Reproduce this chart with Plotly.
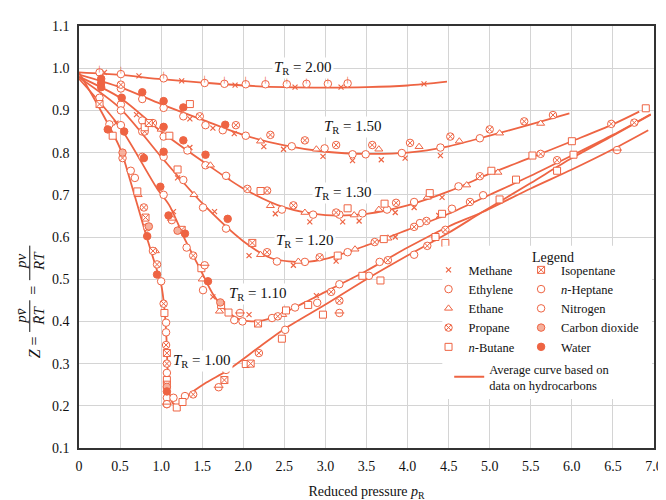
import plotly.graph_objects as go

COLOR = "#EE6443"
FONT = "Liberation Serif, Times New Roman, serif"

# ---------------- average curves (hydrocarbons) ----------------
tr_labels = ["2.00", "1.50", "1.30", "1.20", "1.10", "1.00"]

tr200_x = [0, 0.5, 1.0, 1.5, 2.0, 2.5, 3.0, 3.5, 4.0, 4.48]
tr200_y = [0.99, 0.984, 0.974, 0.966, 0.959, 0.955, 0.954, 0.955, 0.959, 0.968]

tr150_x = [0, 0.5, 1.0, 1.5, 2.0, 2.5, 3.0, 3.5, 4.0, 4.5, 5.0, 5.5, 5.97]
tr150_y = [0.985, 0.955, 0.915, 0.878, 0.842, 0.817, 0.802, 0.797, 0.800, 0.815, 0.840, 0.867, 0.893]

tr130_x = [0, 0.5, 1.0, 1.5, 2.0, 2.5, 3.0, 3.5, 4.0, 4.5, 5.0, 5.5, 6.0, 6.5, 6.82]
tr130_y = [0.98, 0.93, 0.85, 0.78, 0.715, 0.67, 0.652, 0.655, 0.675, 0.708, 0.75, 0.788, 0.827, 0.867, 0.897]

tr120_x = [0, 0.5, 1.0, 1.5, 2.0, 2.35, 2.75, 3.0, 3.5, 4.0, 4.5, 5.0, 5.5, 6.0, 6.5, 6.96]
tr120_y = [0.978, 0.905, 0.79, 0.68, 0.59, 0.549, 0.541, 0.548, 0.58, 0.617, 0.655, 0.70, 0.745, 0.793, 0.842, 0.891]

tr110_x = [0, 0.5, 0.95, 1.1, 1.3, 1.47, 1.63, 1.8, 1.95, 2.1, 2.35, 2.75, 3.0, 3.5, 4.0, 4.5, 4.9, 5.5, 6.0, 6.5, 6.93]
tr110_y = [0.975, 0.86, 0.715, 0.675, 0.59, 0.526, 0.465, 0.424, 0.405, 0.40, 0.408, 0.445, 0.47, 0.52, 0.575, 0.625, 0.658, 0.715, 0.76, 0.808, 0.853]

tr100_x = [0, 0.25, 0.5, 0.63, 0.81, 0.93, 1.0, 1.04, 1.065, 1.08, 1.1, 1.14, 1.2, 1.31, 1.55, 1.8, 2.2, 2.5, 3.0, 3.5, 4.0, 4.5, 4.9, 5.5, 6.0, 6.5, 6.96]
tr100_y = [0.99, 0.905, 0.81, 0.73, 0.609, 0.533, 0.488, 0.43, 0.36, 0.28, 0.232, 0.207, 0.199, 0.222, 0.255, 0.283, 0.34, 0.382, 0.44, 0.50, 0.556, 0.61, 0.658, 0.728, 0.787, 0.84, 0.89]

curves_x = [tr200_x, tr150_x, tr130_x, tr120_x, tr110_x, tr100_x]
curves_y = [tr200_y, tr150_y, tr130_y, tr120_y, tr110_y, tr100_y]

# label positions (data coords) for the T_R labels
label_x = [2.73, 3.33, 3.21, 2.75, 2.18, 1.50]
label_y = [1.000, 0.860, 0.704, 0.590, 0.464, 0.305]

# ---------------- experimental data points ----------------
methane_x = [0.31, 0.73, 1.25, 1.9, 2.63, 3.19, 4.2,
             1.35, 1.63, 1.89, 2.25, 2.49, 2.97, 3.33, 3.68, 3.97, 4.4,
             0.7, 1.35, 1.81, 2.39, 2.81, 3.21, 3.41, 3.85, 4.08, 4.42,
             1.2, 1.65, 2.07, 2.61, 3.13, 3.85, 4.38,
             0.45, 1.15, 1.63, 2.07, 2.89]
methane_y = [0.99, 0.982, 0.97, 0.96, 0.955, 0.955, 0.963,
             0.88, 0.858, 0.845, 0.814, 0.808, 0.791, 0.781, 0.783, 0.787, 0.793,
             0.89, 0.812, 0.742, 0.655, 0.636, 0.636, 0.638, 0.658, 0.67, 0.694,
             0.74, 0.66, 0.556, 0.533, 0.543, 0.60, 0.651,
             0.87, 0.66, 0.458, 0.416, 0.461]

ethylene_x = [0.51, 0.77, 1.03, 1.27, 1.54, 1.75, 2.03, 2.59, 2.99, 3.33, 3.49, 3.93, 4.4, 4.88,
              0.51, 0.77, 1.03, 1.32, 1.54, 1.79, 2.47, 2.85, 3.17, 3.45, 3.75, 4.08, 4.62,
              0.51, 0.77, 1.03, 1.27, 1.51, 1.79, 2.41, 2.75, 3.27, 4.15, 4.54, 4.92,
              0.25, 0.51, 0.77, 1.03, 1.31, 1.51, 1.89, 1.99, 2.35, 2.63, 2.9, 3.17, 3.66, 4.34,
              0.37, 0.63, 0.68, 0.83, 1.0, 1.06, 1.06, 1.07, 1.07, 1.07, 1.15, 1.29, 1.79, 2.51, 3.53, 4.08]
ethylene_y = [0.952, 0.927, 0.906, 0.886, 0.865, 0.853, 0.84, 0.815, 0.81, 0.796, 0.796, 0.799, 0.812, 0.834,
              0.914, 0.876, 0.838, 0.805, 0.77, 0.745, 0.665, 0.653, 0.653, 0.656, 0.665, 0.683, 0.72,
              0.90, 0.85, 0.79, 0.735, 0.67, 0.62, 0.542, 0.541, 0.564, 0.633, 0.667, 0.699,
              0.93, 0.865, 0.79, 0.70, 0.575, 0.474, 0.403, 0.40, 0.408, 0.433, 0.444, 0.488, 0.541, 0.60,
              0.867, 0.757, 0.74, 0.623, 0.495, 0.397, 0.374, 0.278, 0.219, 0.204, 0.219, 0.223, 0.285, 0.38, 0.508, 0.558]

ethane_x = [2.21, 2.89, 3.65, 4.14, 4.63, 5.12, 5.62,
            1.0, 1.6, 2.33, 2.75, 3.35, 3.65, 4.24, 4.72, 5.1,
            1.4, 2.21, 2.67, 3.36, 3.76,
            1.5, 1.71, 2.48,
            0.72, 0.93]
ethane_y = [0.827, 0.808, 0.808, 0.814, 0.827, 0.846, 0.869,
            0.855, 0.77, 0.674, 0.658, 0.652, 0.665, 0.694, 0.723, 0.753,
            0.70, 0.558, 0.542, 0.571, 0.597,
            0.50, 0.424, 0.416,
            0.70, 0.567]

propane_x = [0.51, 1.47, 1.91, 2.33, 2.75, 3.13, 3.57, 4.03, 4.52, 5.0, 5.42, 5.77,
             0.9, 2.05, 2.29, 2.61, 3.13, 3.86, 4.88, 5.62, 6.48,
             0.8, 2.29, 2.93, 3.6, 4.08, 4.23, 4.76, 5.82, 6.76,
             1.39, 2.42, 3.07, 3.76, 4.24, 4.46,
             0.53, 0.79, 0.9, 0.95, 1.03, 1.06, 1.07, 1.39, 2.19, 3.17]
propane_y = [0.961, 0.886, 0.865, 0.842, 0.829, 0.818, 0.818, 0.823, 0.838, 0.855, 0.874, 0.889,
             0.87, 0.714, 0.71, 0.675, 0.658, 0.681, 0.744, 0.797, 0.868,
             0.85, 0.564, 0.552, 0.588, 0.624, 0.638, 0.683, 0.782, 0.871,
             0.556, 0.412, 0.47, 0.545, 0.579, 0.617,
             0.787, 0.67, 0.567, 0.535, 0.442, 0.344, 0.30, 0.227, 0.325, 0.449]

butane_x = [1.35,
            1.1, 2.21, 3.27, 3.72, 4.27, 5.02, 5.52, 6.0, 6.9,
            0.8, 1.2, 3.15, 3.71, 4.42, 5.32, 6.02,
            1.49, 1.73, 1.82, 2.52, 2.79, 3.45, 4.34, 5.12, 5.82,
            0.41, 0.71, 1.04, 1.07, 1.19, 1.26, 2.03, 2.47, 2.97, 3.67, 4.46]
butane_y = [0.915,
            0.84, 0.709, 0.668, 0.679, 0.704, 0.757, 0.793, 0.827, 0.905,
            0.86, 0.76, 0.556, 0.595, 0.655, 0.736, 0.795,
            0.526, 0.439, 0.421, 0.426, 0.439, 0.508, 0.60, 0.689, 0.757,
            0.84, 0.708, 0.42, 0.261, 0.196, 0.209, 0.299, 0.359, 0.416, 0.497, 0.586]

isopentane_x = [2.11, 0.25, 1.25, 2.18, 0.81, 1.07, 1.07, 1.77, 2.09, 0.85]
isopentane_y = [0.586, 0.915, 0.617, 0.395, 0.646, 0.325, 0.25, 0.261, 0.30, 0.87]

heptane_x = [1.13, 1.53, 1.96, 1.07, 1.7, 3.17, 6.55]
heptane_y = [0.64, 0.533, 0.42, 0.204, 0.244, 0.42, 0.806]

nitrogen_x = [0.25, 0.51, 1.03, 1.53, 1.77, 2.03, 2.27, 2.53, 2.77, 3.03, 3.27]
nitrogen_y = [0.99, 0.986, 0.976, 0.965, 0.963, 0.962, 0.962, 0.962, 0.963, 0.963, 0.964]

co2_x = [0.53, 0.85, 1.2, 1.72, 1.07]
co2_y = [0.80, 0.625, 0.615, 0.445, 0.245]

water_x = [0.27, 0.27, 0.27,
           0.77, 1.03, 1.27, 1.78,
           0.52, 1.03, 1.27, 1.54,
           1.03, 1.81,
           0.55, 0.79, 0.99, 1.09, 1.29, 1.57,
           0.35, 0.83, 0.95, 1.07]
water_y = [0.975, 0.965, 0.955,
           0.943, 0.922, 0.907, 0.866,
           0.93, 0.861, 0.829, 0.795,
           0.802, 0.643,
           0.85, 0.787, 0.719, 0.651, 0.608, 0.495,
           0.855, 0.602, 0.511, 0.234]

x_tickvals = [0, 0.5, 1.0, 1.5, 2.0, 2.5, 3.0, 3.5, 4.0, 4.5, 5.0, 5.5, 6.0, 6.5, 7.0]
x_ticktext = ["0", "0.5", "1.0", "1.5", "2.0", "2.5", "3.0", "3.5", "4.0", "4.5", "5.0", "5.5", "6.0", "6.5", "7.0"]

fig = go.Figure()

# curves
for i, (cx, cy) in enumerate(zip(curves_x, curves_y)):
    fig.add_trace(go.Scatter(
        x=cx, y=cy, mode="lines",
        line=dict(color=COLOR, width=1.8, shape="spline", smoothing=0.8),
        name="Average curve based on<br>data on hydrocarbons",
        legend="legend3", legendgroup="avg", showlegend=(i == 0),
        hoverinfo="skip"))


def add_markers(name, xs, ys, symbol, rank, legend, size=7.5, fill="white", width=1):
    fig.add_trace(go.Scatter(
        x=xs, y=ys, mode="markers", name=name, legendrank=rank,
        legend=legend,
        marker=dict(symbol=symbol, size=size, color=fill,
                    line=dict(color=COLOR, width=width))))


# left legend column
add_markers("Methane", methane_x, methane_y, "x-thin-open", 1, "legend", size=5, fill=COLOR, width=1.2)
add_markers("Ethylene", ethylene_x, ethylene_y, "circle", 2, "legend")
add_markers("Ethane", ethane_x, ethane_y, "triangle-up", 3, "legend", size=7)
add_markers("Propane", propane_x, propane_y, "circle-x", 4, "legend")
add_markers("<i>n</i>-Butane", butane_x, butane_y, "square", 5, "legend", size=7)
# right legend column
add_markers("Isopentane", isopentane_x, isopentane_y, "square-x", 1, "legend2", size=7)
add_markers("<i>n</i>-Heptane", heptane_x, heptane_y, "circle", 2, "legend2")
fig.add_trace(go.Scatter(x=heptane_x, y=heptane_y, mode="markers", showlegend=False,
                         marker=dict(symbol="line-ew-open", size=7, color=COLOR,
                                     line=dict(color=COLOR, width=1)),
                         hoverinfo="skip"))
add_markers("Nitrogen", nitrogen_x, nitrogen_y, "circle", 3, "legend2")
fig.add_trace(go.Scatter(x=nitrogen_x, y=nitrogen_y, mode="text", text=["|"] * len(nitrogen_x),
                         textposition="top center", showlegend=False,
                         textfont=dict(color=COLOR, size=7, family="DejaVu Sans"),
                         hoverinfo="skip"))
add_markers("Carbon dioxide", co2_x, co2_y, "circle", 4, "legend2", fill="#F6B09C")
add_markers("Water", water_x, water_y, "circle", 5, "legend2", fill=COLOR)

# T_R labels
for lx, ly, lab in zip(label_x, label_y, tr_labels):
    fig.add_annotation(x=lx, y=ly, xref="x", yref="y",
                       text="<i>T</i><sub>R</sub> = " + lab, showarrow=False,
                       font=dict(family=FONT, size=15, color="#111"),
                       bgcolor="white", borderpad=1)


def ytxt(text, px, py, size=16):
    fig.add_annotation(x=0, y=(451 - py) / 440, xref="paper", yref="paper",
                       xshift=px - 71, text=text, showarrow=False, textangle=-90,
                       xanchor="center", yanchor="middle",
                       font=dict(family=FONT, size=size, color="#111"))


# y-axis title built from pieces (fractions)
ytxt("<i>Z</i> =", 26, 346)
ytxt("<i>p</i><i>v̄</i>", 13, 313, 15)
ytxt("<i>R̄T</i>", 31, 313, 15)
ytxt("=", 26, 287)
ytxt("<i>pv</i>", 13, 256, 15)
ytxt("<i>RT</i>", 31, 256, 15)
for y0, y1 in [(297, 330), (240, 276)]:
    fig.add_shape(type="line", xref="paper", yref="paper",
                  x0=(21 - 71) / 584, x1=(21 - 71) / 584,
                  y0=(451 - y0) / 440, y1=(451 - y1) / 440,
                  line=dict(color="#111", width=1))

# white panel behind the legend
fig.add_shape(type="rect", xref="paper", yref="paper", layer="above",
              x0=(440 - 71) / 584, x1=(653 - 71) / 584,
              y0=(451 - 400) / 440, y1=(451 - 240) / 440,
              fillcolor="white", line=dict(width=0))
fig.add_annotation(x=(552 - 71) / 584, y=(451 - 252) / 440, xref="paper", yref="paper",
                   text="Legend", showarrow=False, xanchor="center", yanchor="middle",
                   font=dict(family=FONT, size=14, color="#111"))

leg_common = dict(bgcolor="rgba(0,0,0,0)", borderwidth=0, xanchor="left", yanchor="top",
                  font=dict(family=FONT, size=12.5, color="#111"),
                  itemsizing="trace", tracegroupgap=0, traceorder="normal",
                  orientation="v")

fig.update_layout(
    width=666, height=500,
    margin=dict(l=71, r=11, t=11, b=49),
    paper_bgcolor="white", plot_bgcolor="white",
    font=dict(family=FONT, size=14, color="#111"),
    showlegend=True,
    legend=dict(x=(426 - 71) / 584, y=(451 - 250) / 440, **leg_common),
    legend2=dict(x=(520 - 71) / 584, y=(451 - 250) / 440, **leg_common),
    legend3=dict(x=(447 - 71) / 584, y=(451 - 353) / 440, **leg_common),
    xaxis=dict(range=[0, 7], tickvals=x_tickvals, ticktext=x_ticktext,
               showgrid=True, gridcolor="#d4d4d4", gridwidth=1,
               showline=True, linecolor="#333", linewidth=1.5, mirror=True,
               ticks="outside", ticklen=4, tickcolor="rgba(0,0,0,0)",
               zeroline=False,
               title=dict(text="Reduced pressure <i>p</i><sub>R</sub>",
                          font=dict(family=FONT, size=14), standoff=14)),
    yaxis=dict(range=[0.1, 1.1], dtick=0.1, tick0=0.1, tickformat=".1f",
               showgrid=True, gridcolor="#d4d4d4", gridwidth=1,
               showline=True, linecolor="#333", linewidth=1.5, mirror=True,
               ticks="outside", ticklen=5, tickcolor="rgba(0,0,0,0)",
               zeroline=False),
)

fig.write_html("out.html")
